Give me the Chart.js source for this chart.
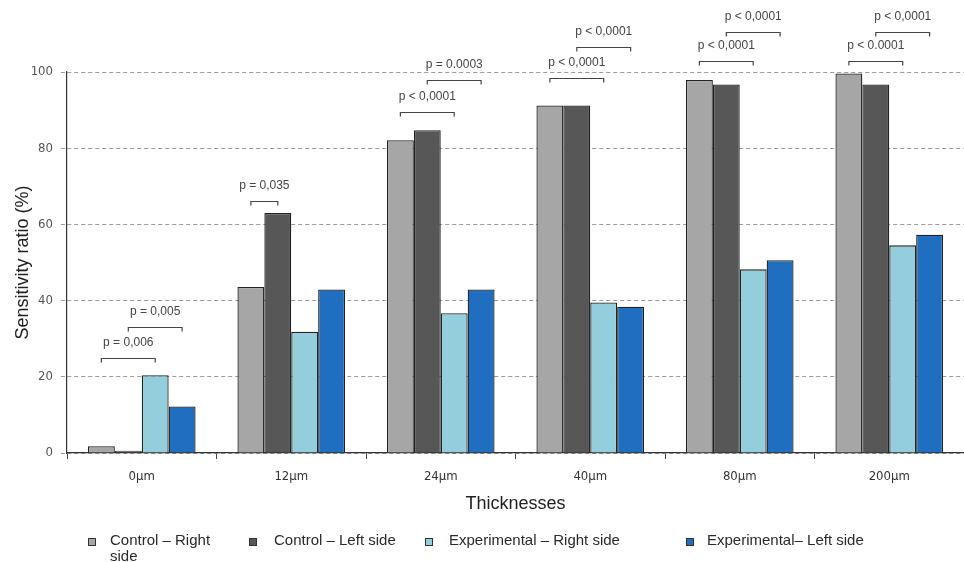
<!DOCTYPE html>
<html>
<head>
<meta charset="utf-8">
<script src="https://cdn.jsdelivr.net/npm/chart.js@4"></script>
<style>
  html, body { margin: 0; padding: 0; background: #fff; }
  #wrap { position: relative; width: 964px; height: 562px; overflow: hidden; }
  #c { position: absolute; left: 0; top: 0; }
  .lg { position: absolute; font-family: 'Liberation Sans', Arial, sans-serif; font-size: 15px; color: #2a2a2a; line-height: 16px; }
  .bx { position: absolute; width: 6px; height: 6px; border: 1px solid #333; }
</style>
</head>
<body>
<div id="wrap">
  <canvas id="c" width="964" height="562"></canvas>
</div>
<script>
const categories = ['0µm', '12µm', '24µm', '40µm', '80µm', '200µm'];
const seriesNames = ['Control – Right side', 'Control – Left side', 'Experimental – Right side', 'Experimental– Left side'];
const controlRight = [1.8, 43.6, 82.1, 91.2, 97.9, 99.6];
const controlLeft  = [0.6, 63.0, 84.7, 91.2, 96.7, 96.7];
const expRight     = [20.4, 31.8, 36.7, 39.5, 48.2, 54.5];
const expLeft      = [12.2, 42.9, 42.9, 38.4, 50.6, 57.3];
const yTicks = [0, 20, 40, 60, 80, 100];

// significance brackets: category index, from series, to series, level (y value), label
const bracketCats   = [0, 0, 1, 2, 2, 3, 3, 4, 4, 5, 5];
const bracketFrom   = [0, 1, 0, 0, 1, 0, 1, 0, 1, 0, 1];
const bracketTo     = [2, 3, 1, 2, 3, 2, 3, 2, 3, 2, 3];
const bracketLevels = [25.0, 33.2, 66.1, 89.4, 97.9, 98.5, 106.5, 102.9, 110.6, 102.9, 110.6];
const bracketLabels = ['p = 0,006', 'p = 0,005', 'p = 0,035', 'p < 0,0001', 'p = 0.0003',
                       'p < 0,0001', 'p < 0,0001', 'p < 0,0001', 'p < 0,0001', 'p < 0.0001', 'p < 0,0001'];

const colors = ['#a6a6a6', '#575757', '#94cedd', '#1f6ebf'];
const seriesData = [controlRight, controlLeft, expRight, expLeft];

const bracketPlugin = {
  id: 'brackets',
  afterDatasetsDraw(chart) {
    const ctx = chart.ctx;
    const y = chart.scales.y;
    ctx.save();
    ctx.strokeStyle = '#444';
    ctx.lineWidth = 1.2;
    ctx.fillStyle = '#444';
    ctx.font = '12px "Liberation Sans", Arial, sans-serif';
    ctx.textAlign = 'center';
    ctx.textBaseline = 'middle';
    for (let i = 0; i < bracketCats.length; i++) {
      const c = bracketCats[i];
      const x1 = chart.getDatasetMeta(bracketFrom[i]).data[c].x;
      const x2 = chart.getDatasetMeta(bracketTo[i]).data[c].x;
      const py = Math.round(y.getPixelForValue(bracketLevels[i])) + 0.5;
      ctx.beginPath();
      ctx.moveTo(x1, py + 4);
      ctx.lineTo(x1, py);
      ctx.lineTo(x2, py);
      ctx.lineTo(x2, py + 4);
      ctx.stroke();
      ctx.fillText(bracketLabels[i], (x1 + x2) / 2, py - 16);
    }
    ctx.restore();
  }
};

new Chart(document.getElementById('c'), {
  type: 'bar',
  data: {
    labels: categories,
    datasets: seriesData.map((d, i) => ({
      label: seriesNames[i],
      data: d,
      backgroundColor: colors[i],
      borderColor: '#222',
      borderWidth: 1.3,
      categoryPercentage: 0.72,
      barPercentage: 1.0
    }))
  },
  options: {
    responsive: false,
    animation: false,
    layout: { padding: { top: 72, right: 0, bottom: 47, left: 0 } },
    plugins: { legend: { display: false }, tooltip: { enabled: false } },
    scales: {
      x: {
        grid: { drawOnChartArea: false, drawTicks: true, tickLength: 6, color: '#444', offset: true },
        border: { display: true, color: '#333', width: 1.2 },
        ticks: {
          padding: 10,
          color: '#333',
          font: { family: "'Liberation Sans Narrow', 'DejaVu Sans Condensed', Arial, sans-serif", size: 13 }
        },
        title: {
          display: true,
          text: 'Thicknesses',
          color: '#222',
          font: { family: "'Liberation Sans', Arial, sans-serif", size: 18 },
          padding: { top: 0, bottom: 0 }
        },
        afterFit(scale) { scale.height = 62; }
      },
      y: {
        min: 0,
        max: 100,
        afterBuildTicks(scale) { scale.ticks = yTicks.map(v => ({ value: v })); },
        grid: { color: '#9a9a9a', lineWidth: 1, drawTicks: true, tickLength: 6, tickBorderDash: [4, 3] },
        border: { display: true, color: '#333', width: 1.2, dash: [4, 3] },
        ticks: {
          padding: 8,
          color: '#555',
          font: { family: "'Liberation Sans Narrow', 'DejaVu Sans Condensed', Arial, sans-serif", size: 13 }
        },
        title: {
          display: true,
          text: 'Sensitivity ratio (%)',
          color: '#222',
          font: { family: "'Liberation Sans', Arial, sans-serif", size: 18 },
          padding: { top: 12, bottom: 0 }
        },
        afterFit(scale) { scale.width = 67; }
      }
    }
  },
  plugins: [bracketPlugin]
});

// HTML legend
const legendPos = [
  { bx: 88, tx: 110, w: 130 },
  { bx: 249, tx: 274, w: 170 },
  { bx: 425, tx: 449, w: 220 },
  { bx: 686, tx: 707, w: 220 }
];
const wrap = document.getElementById('wrap');
seriesNames.forEach((name, i) => {
  const b = document.createElement('div');
  b.className = 'bx';
  b.style.left = legendPos[i].bx + 'px';
  b.style.top = '538px';
  b.style.background = colors[i];
  wrap.appendChild(b);
  const t = document.createElement('div');
  t.className = 'lg';
  t.style.left = legendPos[i].tx + 'px';
  t.style.top = '532px';
  t.style.width = legendPos[i].w + 'px';
  t.textContent = name;
  wrap.appendChild(t);
});
</script>
</body>
</html>
